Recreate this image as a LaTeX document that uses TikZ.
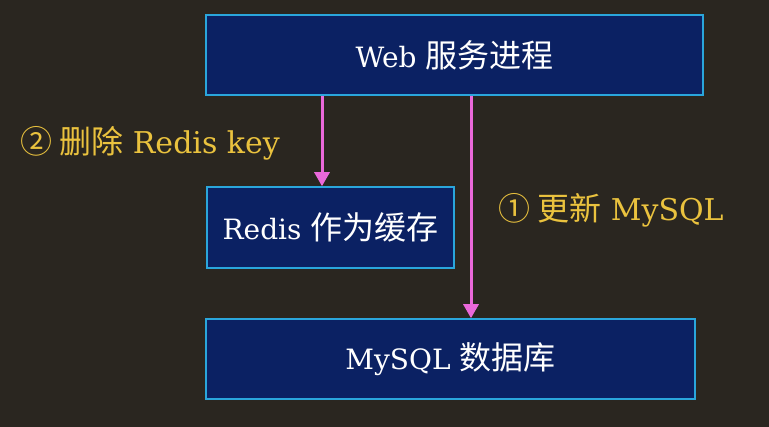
\documentclass[tikz,border=0pt]{standalone}
\usepackage{fontspec}
\setmainfont{DejaVu Serif}
\newfontfamily\cjk{Noto Sans CJK SC}
\newcommand{\zhtext}[1]{{\cjk\fontsize{32}{36}\selectfont #1}}
\usetikzlibrary{arrows.meta, positioning, calc}

\definecolor{bgdark}{HTML}{2A2620}
\definecolor{boxnavy}{HTML}{0B2163}
\definecolor{boxedge}{HTML}{2AA6DC}
\definecolor{arrowpink}{HTML}{EA68DA}
\definecolor{labelgold}{HTML}{EAC23E}

\begin{document}
\begin{tikzpicture}[x=1pt, y=1pt, every node/.style={font=\fontsize{28}{34}\selectfont}]
%
% Skiss:
%  [ Web server process ]
%     |  (2)        | (1)
%     V             |
%  [ Redis cache ]  |
%                   V
%  [ MySQL database     ]
%
\tikzstyle{background} = [fill=bgdark]
\tikzstyle{box} = [rectangle, draw=boxedge, line width=1.5pt, fill=boxnavy, text=white, text centered, inner sep=0pt]
\tikzstyle{note} = [text=labelgold, anchor=west, inner sep=0pt, font=\fontsize{30}{34}\selectfont]
\tikzstyle{arrow} = [line width=3pt, draw=arrowpink, -{Triangle[width=15pt,length=14pt]}]
% Background
\fill [background] (0,0) rectangle (769,427);
\useasboundingbox (0,0) rectangle (769,427);
% Nodes
\node (web) [box, minimum width=497pt, minimum height=80pt] at (454.5,372) {Web \zhtext{服务进程}};
\node (redis) [box, minimum width=247pt, minimum height=81pt] at (330.5,199.5) {Redis \zhtext{作为缓存}};
\node (mysql) [box, minimum width=489pt, minimum height=80pt] at (450.5,68) {MySQL \zhtext{数据库}};
\node (del_key) [note] at (20,284) {\zhtext{②\ 删除} Redis key};
\node (upd_sql) [note] at (498,217) {\zhtext{①\ 更新} MySQL};
% Arrows
\draw [arrow] ([xshift=-8.5pt]redis.north |- web.south) -- ([xshift=-8.5pt]redis.north);
\draw [arrow] ([xshift=16.5pt]web.south) -- ([xshift=16.5pt]web.south |- mysql.north);
\end{tikzpicture}
\end{document}
